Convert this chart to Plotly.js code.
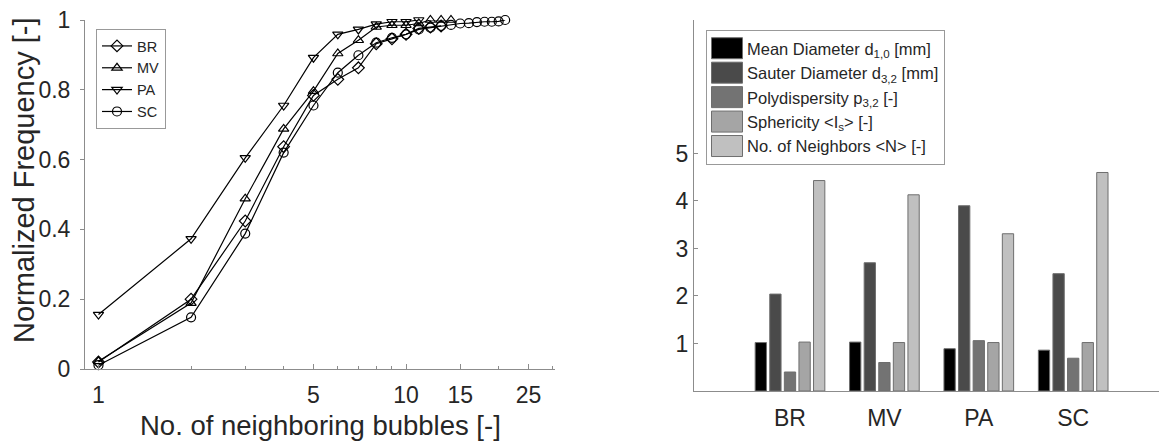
<!DOCTYPE html>
<html>
<head>
<meta charset="utf-8">
<script src="https://cdn.plot.ly/plotly-3.0.1.min.js"></script>
<style>
html,body{margin:0;padding:0;background:#ffffff;}
#chart{width:1159px;height:441px;}
</style>
</head>
<body>
<div id="chart"></div>
<script>
// ---------- Left chart data (cumulative normalized frequency) ----------
const seriesNames = ['BR', 'MV', 'PA', 'SC'];
const neighborsBR = [1, 2, 3, 4, 5, 6, 7, 8, 9, 10, 11, 12, 13];
const freqBR = [0.020, 0.200, 0.424, 0.637, 0.784, 0.830, 0.863, 0.932, 0.946, 0.959, 0.976, 0.980, 0.983];
const neighborsMV = [1, 2, 3, 4, 5, 6, 7, 8, 9, 10, 11, 12, 13, 14];
const freqMV = [0.022, 0.189, 0.488, 0.688, 0.796, 0.904, 0.942, 0.980, 0.985, 0.985, 0.990, 1.000, 1.000, 1.000];
const neighborsPA = [1, 2, 3, 4, 5, 6, 7, 8, 9, 10, 11];
const freqPA = [0.156, 0.373, 0.605, 0.755, 0.892, 0.959, 0.973, 0.988, 0.995, 0.995, 1.000];
const neighborsSC = [1, 2, 3, 4, 5, 6, 7, 8, 9, 10, 11, 12, 13, 14, 15, 16, 17, 18, 19, 20, 21];
const freqSC = [0.011, 0.148, 0.388, 0.620, 0.755, 0.849, 0.899, 0.935, 0.949, 0.959, 0.973, 0.978, 0.983, 0.986, 0.990, 0.991, 0.994, 0.995, 0.995, 0.996, 1.000];
const xTickVals = [1, 5, 10, 15, 25];
const xTickText = ['1', '5', '10', '15', '25'];
const xMinorVals = [2, 3, 4, 6, 7, 8, 9, 20, 30];
const yTickVals = [0, 0.2, 0.4, 0.6, 0.8, 1];
const yTickText = ['0', '0.2', '0.4', '0.6', '0.8', '1'];
const leftXTitle = 'No. of neighboring bubbles [-]';
const leftYTitle = 'Normalized Frequency [-]';

// ---------- Right chart data (bubble statistics) ----------
const barCategories = ['BR', 'MV', 'PA', 'SC'];
const barSeriesNames = [
  'Mean Diameter d<sub>1,0</sub> [mm]',
  'Sauter Diameter d<sub>3,2</sub> [mm]',
  'Polydispersity p<sub>3,2</sub> [-]',
  'Sphericity &lt;I<sub>s</sub>&gt; [-]',
  'No. of Neighbors &lt;N&gt; [-]'
];
const meanDiameter = [1.02, 1.03, 0.89, 0.86];
const sauterDiameter = [2.04, 2.70, 3.90, 2.47];
const polydispersity = [0.40, 0.60, 1.06, 0.69];
const sphericity = [1.03, 1.02, 1.02, 1.02];
const noNeighbors = [4.43, 4.13, 3.31, 4.60];
const barTickVals = [1, 2, 3, 4, 5];

// ---------- styles ----------
const W = 1159, H = 441;
const axisGray = '#8c8c8c';
const textDark = '#262626';
const fontFam = 'Liberation Sans, Arial, sans-serif';
const markerSymbols = ['diamond-open', 'triangle-up-open', 'triangle-down-open', 'circle-open'];
const barColors = ['#000000', '#4a4a4a', '#737373', '#a5a5a5', '#c0c0c0'];

const lineX = [neighborsBR, neighborsMV, neighborsPA, neighborsSC];
const lineY = [freqBR, freqMV, freqPA, freqSC];
const barValues = [meanDiameter, sauterDiameter, polydispersity, sphericity, noNeighbors];

const traces = [];
seriesNames.forEach((name, i) => {
  traces.push({
    type: 'scatter', mode: 'lines+markers', name: name,
    x: lineX[i], y: lineY[i], xaxis: 'x', yaxis: 'y', legend: 'legend',
    line: {color: '#000000', width: 1.2},
    marker: {symbol: markerSymbols[i], size: 9, color: '#000000', line: {color: '#000000', width: 1.2}},
    cliponaxis: false
  });
});
barSeriesNames.forEach((name, i) => {
  traces.push({
    type: 'bar', name: name, x: barCategories, y: barValues[i],
    xaxis: 'x2', yaxis: 'y2', legend: 'legend2', legendgroup: 'g' + i,
    marker: {color: barColors[i], line: {color: '#6e6e6e', width: 1}}
  });
});

const layout = {
  width: W, height: H,
  margin: {l: 0, r: 0, t: 0, b: 0},
  paper_bgcolor: '#ffffff', plot_bgcolor: 'rgba(0,0,0,0)',
  font: {family: fontFam, color: textDark},
  showlegend: true,
  xaxis: {
    domain: [85 / W, 555 / W], anchor: 'y', type: 'log',
    range: [Math.log10(0.904), Math.log10(30.5)],
    tickmode: 'array', tickvals: xTickVals, ticktext: xTickText,
    ticks: 'inside', ticklen: 5, tickcolor: axisGray,
    minor: {tickmode: 'array', tickvals: xMinorVals, ticks: 'inside', ticklen: 3, tickcolor: axisGray, showgrid: false},
    showline: true, linecolor: axisGray, linewidth: 1,
    showgrid: false, zeroline: false,
    tickfont: {size: 23, color: textDark}, ticklabelstandoff: 5
  },
  yaxis: {
    domain: [72 / H, 421 / H], anchor: 'x', range: [0, 1],
    tickmode: 'array', tickvals: yTickVals, ticktext: yTickText,
    ticks: 'outside', ticklen: 4, tickcolor: axisGray,
    showline: true, linecolor: axisGray, linewidth: 1,
    showgrid: false, zeroline: false,
    tickfont: {size: 23, color: textDark}, ticklabelstandoff: 5
  },
  xaxis2: {
    domain: [694 / W, 1], anchor: 'y2', type: 'category',
    range: [-1.017, 3.909],
    ticks: '', showline: true, linecolor: axisGray, linewidth: 1,
    showgrid: false, zeroline: false,
    tickfont: {size: 23, color: textDark}, ticklabelstandoff: 6
  },
  yaxis2: {
    domain: [50 / H, 421 / H], anchor: 'x2', range: [0, 7.81],
    tickmode: 'array', tickvals: barTickVals,
    ticks: 'inside', ticklen: 4, tickcolor: axisGray,
    showline: true, linecolor: axisGray, linewidth: 1,
    showgrid: false, zeroline: false,
    tickfont: {size: 23, color: textDark}
  },
  barmode: 'group', bargap: 0.227, bargroupgap: 0.226,
  legend: {
    x: 96 / W, y: 1 - 29 / H, xanchor: 'left', yanchor: 'top',
    bgcolor: '#ffffff', bordercolor: '#999999', borderwidth: 1,
    font: {size: 14.5, color: textDark}, itemwidth: 30, tracegroupgap: 0
  },
  legend2: {
    x: 706 / W, y: 1 - 30 / H, xanchor: 'left', yanchor: 'top',
    bgcolor: '#ffffff', bordercolor: '#999999', borderwidth: 1,
    font: {size: 16.5, color: textDark}, itemwidth: 30, tracegroupgap: 7,
    traceorder: 'normal'
  },
  annotations: [
    {text: leftXTitle, xref: 'paper', yref: 'paper', x: 320 / W, y: 1 - 425 / H,
     xanchor: 'center', yanchor: 'middle', showarrow: false, font: {size: 27.5, color: textDark, family: fontFam}},
    {text: leftYTitle, xref: 'paper', yref: 'paper', x: 24 / W, y: 1 - 180 / H, textangle: -90,
     xanchor: 'center', yanchor: 'middle', showarrow: false, font: {size: 29, color: textDark, family: fontFam}}
  ]
};

Plotly.newPlot('chart', traces, layout, {staticPlot: true, displayModeBar: false}).then(gd => {
  // enlarge bar legend swatches to match the reference's wide boxes
  const lg = gd.querySelector('g.legend2');
  if (lg) {
    lg.querySelectorAll('g.legendpoints path').forEach(p => {
      p.setAttribute('d', 'M15.5,10.5H-15.5V-10.5H15.5Z');
    });
  }
});
</script>
</body>
</html>
